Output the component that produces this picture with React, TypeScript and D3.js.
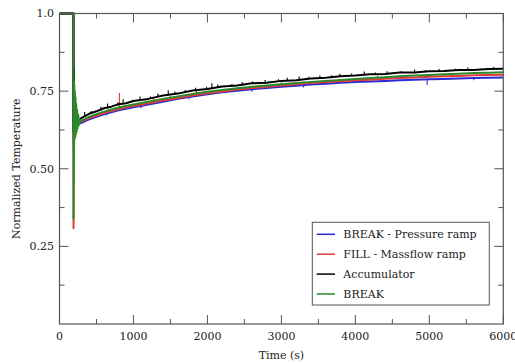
import React from "react";
import * as d3 from "d3";

const W = 515;
const H = 363;
const M = { left: 59.5, right: 503.3, top: 13.5, bottom: 324 };

const xTicks = [0, 1000, 2000, 3000, 4000, 5000, 6000];
const xMinor = [500, 1500, 2500, 3500, 4500, 5500];
const yTicks = [0.25, 0.5, 0.75, 1.0];
const yTickLabels = ["0.25", "0.50", "0.75", "1.0"];
const yMinor = [0.125, 0.375, 0.625, 0.875];

const seriesNames = ["BREAK - Pressure ramp", "FILL - Massflow ramp", "Accumulator", "BREAK"];
const seriesColors = ["#2b2bd6", "#e23a3a", "#000000", "#2a8a2a"];

// common grid of the slow recovery
const times = [300, 400, 500, 600, 700, 800, 900, 1000, 1200, 1400, 1600, 1800, 2000, 2200, 2400, 2600, 2800, 3000, 3200, 3400, 3600, 3800, 4000, 4200, 4400, 4600, 4800, 5000, 5200, 5400, 5600, 5800, 6000];

const blueVals = [0.648, 0.659, 0.667, 0.675, 0.682, 0.688, 0.693, 0.698, 0.707, 0.716, 0.725, 0.733, 0.740, 0.746, 0.751, 0.756, 0.760, 0.764, 0.767, 0.771, 0.774, 0.777, 0.779, 0.781, 0.783, 0.785, 0.787, 0.788, 0.789, 0.791, 0.792, 0.793, 0.794];
const redVals = [0.652, 0.663, 0.671, 0.679, 0.686, 0.692, 0.697, 0.702, 0.711, 0.720, 0.728, 0.736, 0.743, 0.749, 0.755, 0.760, 0.764, 0.768, 0.772, 0.776, 0.779, 0.782, 0.785, 0.787, 0.790, 0.792, 0.794, 0.796, 0.798, 0.799, 0.801, 0.802, 0.803];
const blackVals = [0.664, 0.677, 0.685, 0.695, 0.700, 0.708, 0.711, 0.718, 0.725, 0.736, 0.742, 0.752, 0.757, 0.765, 0.768, 0.775, 0.777, 0.783, 0.785, 0.791, 0.793, 0.798, 0.800, 0.804, 0.805, 0.810, 0.810, 0.814, 0.815, 0.818, 0.818, 0.821, 0.822];
const greenVals = [0.655, 0.667, 0.676, 0.684, 0.691, 0.697, 0.702, 0.707, 0.716, 0.725, 0.733, 0.741, 0.748, 0.754, 0.759, 0.764, 0.768, 0.772, 0.776, 0.779, 0.783, 0.786, 0.789, 0.792, 0.795, 0.798, 0.800, 0.802, 0.804, 0.806, 0.808, 0.809, 0.811];

// initial transient
const blueStartT = [0, 188, 190, 196, 204, 214, 228, 250, 275];
const blueStartV = [1, 1, 0.58, 0.70, 0.62, 0.655, 0.635, 0.645, 0.646];
const redStartT = [0, 188, 190, 196, 204, 214, 228, 250, 275];
const redStartV = [1, 1, 0.308, 0.70, 0.61, 0.66, 0.635, 0.648, 0.65];
const blackStartT = [0, 188, 190, 194, 198, 204, 212, 222, 235, 250, 275];
const blackStartV = [1, 1, 0.62, 0.826, 0.64, 0.72, 0.645, 0.67, 0.652, 0.662, 0.66];
const greenStartT = [0, 188, 190, 192, 194, 196, 198, 201, 204, 208, 212, 216, 221, 226, 232, 238, 245, 252, 260, 270, 280];
const greenStartV = [1, 1, 0.34, 0.79, 0.45, 0.78, 0.58, 0.77, 0.60, 0.75, 0.60, 0.73, 0.61, 0.71, 0.62, 0.69, 0.63, 0.675, 0.64, 0.66, 0.65];

// noise spikes [time, low, high]
const blueSpikes = [[640, 0.672, 0.679], [1100, 0.695, 0.703], [1750, 0.724, 0.731], [2600, 0.748, 0.756], [3300, 0.762, 0.769], [4970, 0.770, 0.788], [5600, 0.785, 0.792]];
const redSpikes = [[810, 0.69, 0.744], [1130, 0.700, 0.708], [1270, 0.713, 0.73], [1850, 0.737, 0.752], [2750, 0.758, 0.768], [3900, 0.78, 0.79], [5300, 0.794, 0.802]];
const blackSpikes = [[340, 0.668, 0.683], [430, 0.676, 0.686], [560, 0.688, 0.70], [650, 0.694, 0.71], [790, 0.704, 0.714], [860, 0.708, 0.724], [990, 0.714, 0.722], [1090, 0.718, 0.733], [1230, 0.725, 0.733], [1330, 0.73, 0.742], [1470, 0.737, 0.753], [1560, 0.739, 0.749], [1700, 0.745, 0.754], [1840, 0.75, 0.761], [1990, 0.755, 0.764], [2060, 0.758, 0.775], [2140, 0.761, 0.771], [2330, 0.765, 0.773], [2470, 0.768, 0.779], [2610, 0.773, 0.781], [2780, 0.776, 0.786], [2960, 0.781, 0.788], [3080, 0.783, 0.793], [3240, 0.785, 0.797], [3370, 0.789, 0.796], [3520, 0.791, 0.8], [3680, 0.794, 0.801], [3790, 0.796, 0.806], [3950, 0.799, 0.807], [4120, 0.802, 0.813], [4270, 0.803, 0.81], [4430, 0.805, 0.814], [4620, 0.808, 0.814], [4800, 0.81, 0.82], [4950, 0.812, 0.818], [5130, 0.813, 0.821], [5350, 0.816, 0.822], [5520, 0.817, 0.826], [5690, 0.818, 0.823], [5870, 0.82, 0.828]];
const greenSpikes = [[1500, 0.728, 0.736], [3000, 0.772, 0.782], [4300, 0.793, 0.8]];

const FONT = "'DejaVu Serif', serif";

export default function App() {
  const x = d3.scaleLinear().domain([0, 6000]).range([M.left, M.right]);
  const y = d3.scaleLinear().domain([0, 1]).range([M.bottom, M.top]);
  const line = d3.line<[number, number]>().x((d) => x(d[0])).y((d) => y(d[1]));

  const build = (st: number[], sv: number[], v: number[]) => {
    const pts: [number, number][] = st.map((t, i) => [t, sv[i]]);
    times.forEach((t, i) => pts.push([t, v[i]]));
    return pts;
  };
  const series = [
    { pts: build(blueStartT, blueStartV, blueVals), spikes: blueSpikes },
    { pts: build(redStartT, redStartV, redVals), spikes: redSpikes },
    { pts: build(blackStartT, blackStartV, blackVals), spikes: blackSpikes },
    { pts: build(greenStartT, greenStartV, greenVals), spikes: greenSpikes },
  ];

  const legendRows = [234.3, 254.2, 274.1, 294];

  return (
    <svg width={W} height={H} style={{ position: "absolute", left: 0, top: 0, background: "#fff" }}>
      <rect x={0} y={0} width={W} height={H} fill="#fff" />
      <defs>
        <clipPath id="plot">
          <rect x={M.left} y={M.top - 2} width={M.right - M.left} height={M.bottom - M.top + 2} />
        </clipPath>
      </defs>
      <g clipPath="url(#plot)">
        {series.map((s, i) => (
          <g key={i}>
            <path d={line(s.pts) || ""} fill="none" stroke={seriesColors[i]} strokeWidth={2} strokeLinejoin="round" />
            {s.spikes.map((sp, j) => (
              <line key={j} x1={x(sp[0])} x2={x(sp[0])} y1={y(sp[1])} y2={y(sp[2])} stroke={seriesColors[i]} strokeWidth={1.1} />
            ))}
          </g>
        ))}
      </g>
      {/* frame */}
      <rect x={M.left} y={M.top} width={M.right - M.left} height={M.bottom - M.top} fill="none" stroke="#555" strokeWidth={1.2} />
      {/* x ticks */}
      {xTicks.map((t) => (
        <g key={"xt" + t}>
          <line x1={x(t)} x2={x(t)} y1={M.bottom} y2={M.bottom - 9} stroke="#555" />
          <line x1={x(t)} x2={x(t)} y1={M.top} y2={M.top + 9} stroke="#555" />
          <text x={x(t)} y={340} textAnchor="middle" fontFamily={FONT} fontSize={11} fill="#222">{t}</text>
        </g>
      ))}
      {xMinor.map((t) => (
        <g key={"xm" + t}>
          <line x1={x(t)} x2={x(t)} y1={M.bottom} y2={M.bottom - 5} stroke="#555" />
          <line x1={x(t)} x2={x(t)} y1={M.top} y2={M.top + 5} stroke="#555" />
        </g>
      ))}
      {yTicks.map((t, i) => (
        <g key={"yt" + t}>
          <line x1={M.left} x2={M.left + 9} y1={y(t)} y2={y(t)} stroke="#555" />
          <line x1={M.right} x2={M.right - 9} y1={y(t)} y2={y(t)} stroke="#555" />
          <text x={54} y={y(t)} dy="0.35em" textAnchor="end" fontFamily={FONT} fontSize={11} fill="#222">{yTickLabels[i]}</text>
        </g>
      ))}
      {yMinor.map((t) => (
        <g key={"ym" + t}>
          <line x1={M.left} x2={M.left + 5} y1={y(t)} y2={y(t)} stroke="#555" />
          <line x1={M.right} x2={M.right - 5} y1={y(t)} y2={y(t)} stroke="#555" />
        </g>
      ))}
      <text x={(M.left + M.right) / 2} y={359} textAnchor="middle" fontFamily={FONT} fontSize={11} fill="#222">Time (s)</text>
      <text transform={`translate(20,${(M.top + M.bottom) / 2}) rotate(-90)`} textAnchor="middle" fontFamily={FONT} fontSize={11} fill="#222">Normalized Temperature</text>
      {/* legend */}
      <rect x={312.3} y={222.3} width={177} height={82.7} fill="#fff" stroke="#555" strokeWidth={1} />
      {seriesNames.map((n, i) => (
        <g key={n}>
          <line x1={316.7} x2={335} y1={legendRows[i]} y2={legendRows[i]} stroke={seriesColors[i]} strokeWidth={1.5} />
          <text x={343.3} y={legendRows[i]} dy="0.35em" fontFamily={FONT} fontSize={11} fill="#222">{n}</text>
        </g>
      ))}
    </svg>
  );
}
